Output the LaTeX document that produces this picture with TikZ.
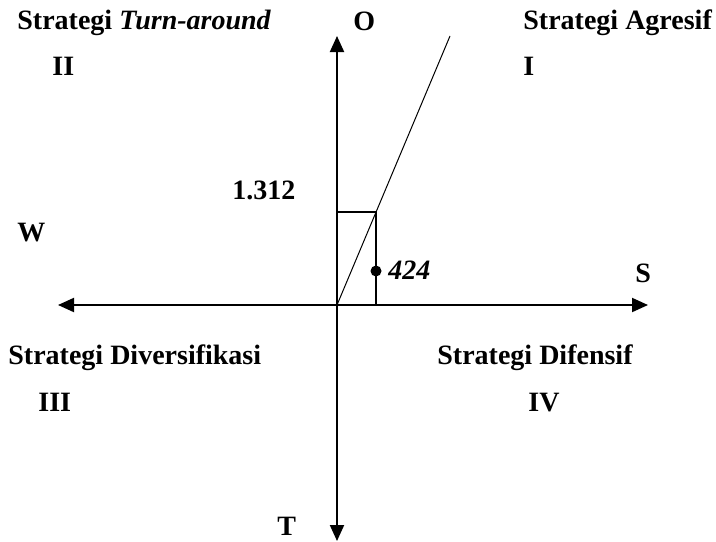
\documentclass[tikz,border=0pt]{standalone}
\usepackage{fontspec}
\setmainfont{Liberation Serif}
\usetikzlibrary{arrows.meta}
\begin{document}
\begin{tikzpicture}[x=0.5pt,y=-0.5pt,
  lbl/.style={anchor=base west,inner sep=0pt,font=\fontsize{14}{16}\selectfont\bfseries},
  axis/.style={line width=1pt,{Triangle[width=7pt,length=8pt]}-{Triangle[width=7pt,length=8pt]}}]
  \useasboundingbox (0,0) rectangle (716,541);
  % axes
  \coordinate (west) at (58,305);
  \coordinate (east) at (648,305);
  \coordinate (north) at (337,36);
  \coordinate (south) at (337,541);
  \coordinate (origin) at (337,305);
  \draw[axis] (west) -- (east);
  \draw[axis] (south) -- (north);
  % position of the point
  \coordinate (ytop) at (337,212);
  \coordinate (corner) at (376,212);
  \coordinate (xfoot) at (376,305);
  \coordinate (lineend) at (450,36);
  \draw[line width=0.8pt] (ytop) -- (corner) -- (xfoot);
  \draw[line width=0.5pt] (origin) -- (lineend);
  \node[circle,fill,inner sep=0pt,minimum size=5.5pt] (pt) at (376,271) {};
  % labels
  \node[lbl] (turn) at (17,29) {Strategi \textit{Turn-around}};
  \node[lbl] (q2) at (52,75) {II};
  \node[lbl] (opp) at (353,30) {O};
  \node[lbl] (agr) at (523,29) {Strategi Agresif};
  \node[lbl] (q1) at (523,75) {I};
  \node[lbl] (yval) at (232,199) {1.312};
  \node[lbl] (weak) at (17,241) {W};
  \node[lbl] (str) at (635,282) {S};
  \node[lbl] (xval) at (388,279) {\textit{424}};
  \node[lbl] (div) at (8,364) {Strategi Diversifikasi};
  \node[lbl] (q3) at (38,411) {III};
  \node[lbl] (dif) at (437,364) {Strategi Difensif};
  \node[lbl] (q4) at (528,411) {IV};
  \node[lbl] (thr) at (277,535) {T};
\end{tikzpicture}
\end{document}
